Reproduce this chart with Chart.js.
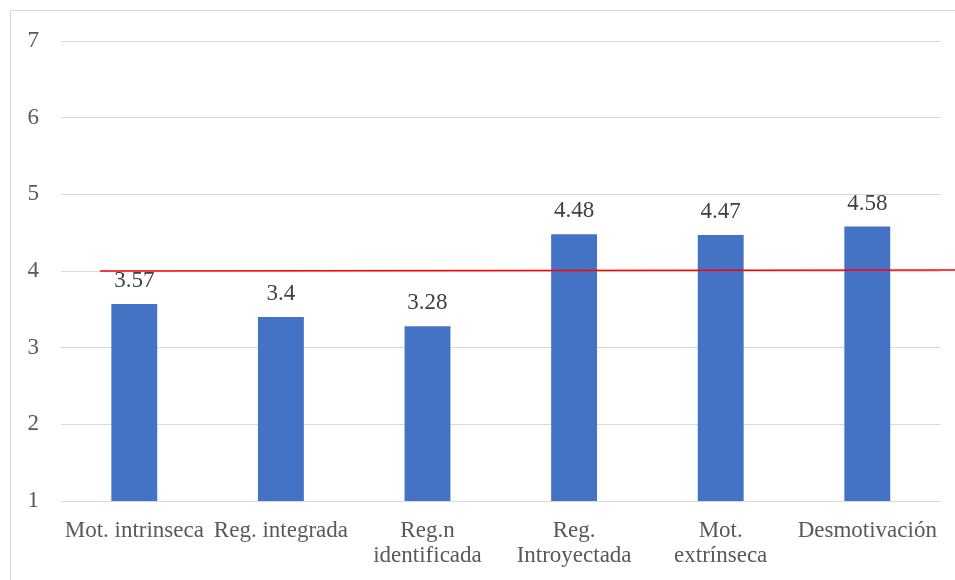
<!DOCTYPE html>
<html>
<head>
<meta charset="utf-8">
<script src="https://cdn.jsdelivr.net/npm/chart.js@4/dist/chart.umd.min.js"></script>
<style>
  html, body { margin: 0; padding: 0; background: #ffffff; overflow: hidden; }
  #wrap { position: relative; width: 955px; height: 580px; }
  #frame {
    position: absolute; left: 10px; top: 10px; width: 980px; height: 600px;
    border: 1px solid #d9d9d9; box-sizing: border-box; pointer-events: none;
  }
  canvas { position: absolute; left: 0; top: 0; }
</style>
</head>
<body>
<div id="wrap">
  <canvas id="chart" width="955" height="580"></canvas>
  <div id="frame"></div>
</div>
<script>
// Motivation dimensions and their mean scores
const categories = [
  'Mot. intrinseca',
  'Reg. integrada',
  ['Reg.n', 'identificada'],
  ['Reg.', 'Introyectada'],
  ['Mot.', 'extrínseca'],
  'Desmotivación'
];
const meanScores = [3.57, 3.4, 3.28, 4.48, 4.47, 4.58];
const yTicks = [1, 2, 3, 4, 5, 6, 7];
const referenceLevel = 4;

const serif = '"Liberation Serif", "Times New Roman", serif';
const fontSize = 23;

// Value labels above each bar
const barValueLabels = {
  id: 'barValueLabels',
  afterDatasetsDraw(chart) {
    const ctx = chart.ctx;
    const meta = chart.getDatasetMeta(0);
    ctx.save();
    ctx.font = fontSize + 'px ' + serif;
    ctx.fillStyle = '#404040';
    ctx.textAlign = 'center';
    ctx.textBaseline = 'alphabetic';
    meta.data.forEach((bar, i) => {
      ctx.fillText(String(meanScores[i]), bar.x, bar.y - 17);
    });
    ctx.restore();
  }
};

// Red reference line at the scale midpoint
const referenceLine = {
  id: 'referenceLine',
  afterDraw(chart) {
    const ctx = chart.ctx;
    const y = chart.scales.y.getPixelForValue(referenceLevel);
    ctx.save();
    ctx.strokeStyle = '#ff0000';
    ctx.lineWidth = 1.5;
    ctx.beginPath();
    ctx.moveTo(chart.chartArea.left + 39, y);
    ctx.lineTo(chart.width, y - 1);
    ctx.stroke();
    ctx.restore();
  }
};

new Chart(document.getElementById('chart'), {
  type: 'bar',
  data: {
    labels: categories,
    datasets: [{
      data: meanScores,
      backgroundColor: '#4472c4',
      borderWidth: 0,
      categoryPercentage: 1.0,
      barPercentage: 0.313
    }]
  },
  options: {
    responsive: false,
    animation: false,
    layout: { padding: { left: 0, top: 41, right: 13, bottom: 0 } },
    plugins: {
      legend: { display: false },
      tooltip: { enabled: false }
    },
    scales: {
      x: {
        afterFit(scale) { scale.height = 79; },
        grid: { display: false, drawTicks: false },
        border: { display: false },
        ticks: {
          color: '#595959',
          font: { family: serif, size: fontSize, lineHeight: 1.09 },
          padding: 17,
          autoSkip: false,
          maxRotation: 0,
          minRotation: 0
        }
      },
      y: {
        min: 1,
        max: 7,
        afterFit(scale) { scale.width = 61; },
        afterBuildTicks(scale) { scale.ticks = yTicks.map(v => ({ value: v })); },
        grid: { color: '#d9d9d9', lineWidth: 1, drawTicks: false },
        border: { display: false },
        ticks: {
          color: '#595959',
          font: { family: serif, size: fontSize },
          padding: 22,
          stepSize: 1
        }
      }
    }
  },
  plugins: [barValueLabels, referenceLine]
});
</script>
</body>
</html>
